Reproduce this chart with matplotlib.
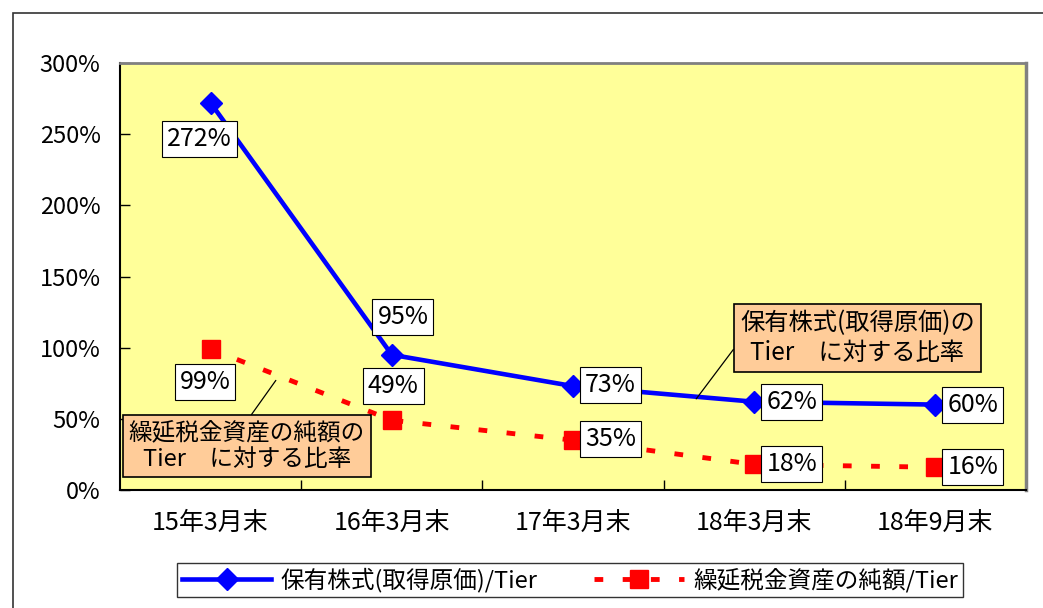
import matplotlib.pyplot as plt
from matplotlib.patches import Rectangle

plt.rcParams['font.family'] = ['Liberation Sans Narrow', 'Noto Sans CJK JP', 'DejaVu Sans']

categories = ['15年3月末', '16年3月末', '17年3月末', '18年3月末', '18年9月末']
kabu = [272, 95, 73, 62, 60]
zeikin = [99, 49, 35, 18, 16]
kabu_name = '保有株式(取得原価)/Tier'
zeikin_name = '繰延税金資産の純額/Tier'
y_ticks = [0, 50, 100, 150, 200, 250, 300]

# label offsets (points) for each data label
kabu_off = [(-8, -26), (8, 27), (27, 1), (27, 0), (27, 0)]
zeikin_off = [(-4, -24), (1, 25), (27, 1), (27, 0), (27, 0)]

fig = plt.figure(figsize=(10.43, 6.08), dpi=100)
fig.patches.append(Rectangle((13 / 1043, -0.2), 1.2, 1.2 - 13 / 608, transform=fig.transFigure,
                             fill=False, edgecolor='#333333', linewidth=1.2, zorder=0))

ax = fig.add_axes([120 / 1043, 1 - 490 / 608, 906 / 1043, 427 / 608])
ax.set_facecolor('#FFFF99')

x = list(range(len(categories)))
ax.plot(x, kabu, color='#0000FF', linewidth=3.3, marker='D', markersize=11,
        label=kabu_name, zorder=3)
ax.plot(x, zeikin, color='#FF0000', linewidth=3.5, linestyle=(0, (1.8, 4)), marker='s',
        markersize=13, label=zeikin_name, zorder=3)

box = dict(boxstyle='square,pad=0.2', facecolor='white', edgecolor='black', linewidth=0.8)
for xi, v, off in zip(x, kabu, kabu_off):
    ax.annotate(f'{v}%', (xi, v), xytext=off, textcoords='offset points',
                ha='center', va='center', fontsize=18, bbox=box, zorder=5)
for xi, v, off in zip(x, zeikin, zeikin_off):
    ax.annotate(f'{v}%', (xi, v), xytext=off, textcoords='offset points',
                ha='center', va='center', fontsize=18, bbox=box, zorder=5)

# callouts
callout = dict(boxstyle='square,pad=0.25', facecolor='#FFCC99', edgecolor='black', linewidth=1.2)
ax.annotate('保有株式(取得原価)の\nTier　に対する比率', xy=(2.68, 64), xytext=(3.57, 107),
            ha='center', va='center', fontsize=17.5, bbox=callout, linespacing=1.2,
            arrowprops=dict(arrowstyle='-', color='black', linewidth=0.9,
                            shrinkA=0, shrinkB=0, relpos=(0, 0.45)), zorder=6)
ax.annotate('繰延税金資産の純額の\nTier　に対する比率', xy=(0.36, 77), xytext=(0.2, 31),
            ha='center', va='center', fontsize=17, bbox=callout, linespacing=1.2,
            arrowprops=dict(arrowstyle='-', color='black', linewidth=0.9,
                            shrinkA=0, shrinkB=0, relpos=(0.5, 1)), zorder=6)

ax.set_xlim(-0.5, len(categories) - 0.5)
ax.set_ylim(0, 300)
ax.set_xticks(x)
ax.set_xticklabels(categories, fontsize=18)
ax.set_xticks([0.5, 1.5, 2.5, 3.5], minor=True)
ax.tick_params(axis='x', which='major', length=0, pad=14)
ax.tick_params(axis='x', which='minor', direction='in', length=7, width=1)
ax.set_yticks(y_ticks)
ax.set_yticklabels([f'{t}%' for t in y_ticks], fontsize=17)
ax.tick_params(axis='y', direction='in', length=7, width=1, pad=14)

ax.spines['top'].set_color('#808080')
ax.spines['right'].set_color('#808080')
ax.spines['top'].set_linewidth(2)
ax.spines['right'].set_linewidth(2.5)
ax.spines['left'].set_linewidth(1.5)
ax.spines['bottom'].set_linewidth(1.5)

leg = fig.legend(loc='center', bbox_to_anchor=(570 / 1043, 1 - 580 / 608), ncol=2,
                 fontsize=17, frameon=True, fancybox=False, edgecolor='black',
                 handlelength=3.8, handletextpad=0.4, columnspacing=2.4,
                 borderpad=0.2, numpoints=1)
leg.get_frame().set_linewidth(1)

fig.savefig('out.png', dpi=100)
